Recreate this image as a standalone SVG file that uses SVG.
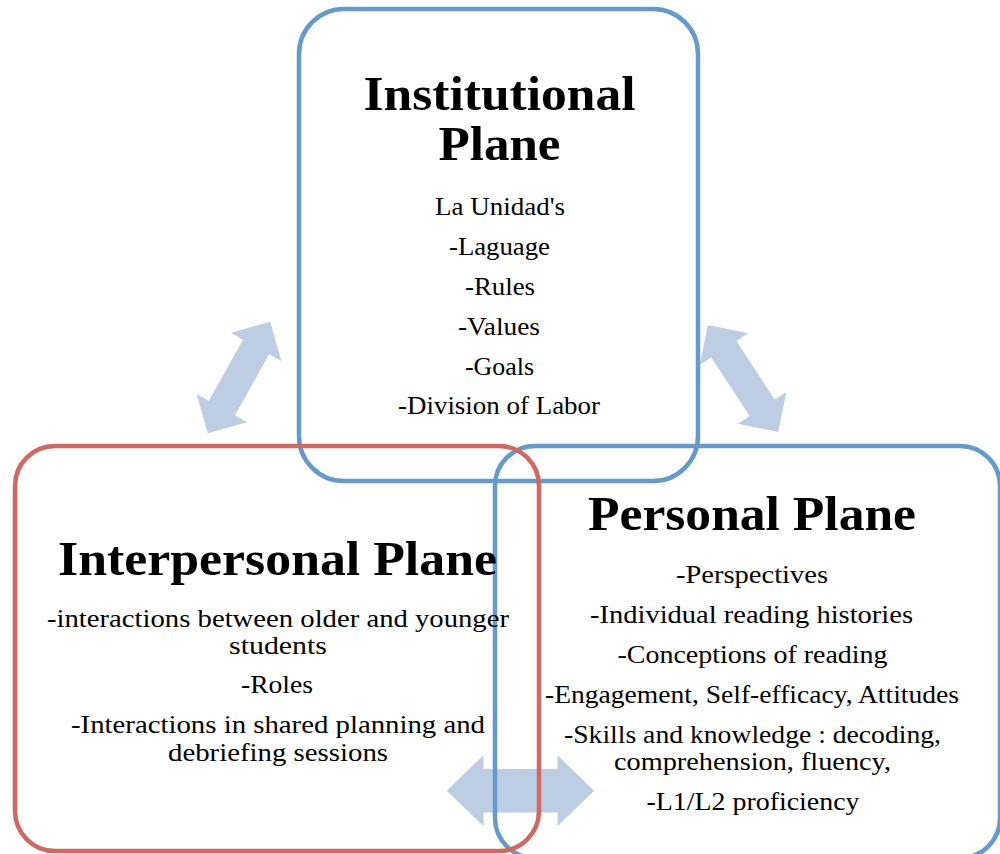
<svg xmlns="http://www.w3.org/2000/svg" width="1000" height="854" viewBox="0 0 1000 854">
<style>
.box{fill:none;stroke-width:4.5}
.blue{stroke:#6699CC}
.red{stroke:#CF6961}
.arrow{fill:#BDCEE4;stroke:none}
text{font-family:"Liberation Serif","Times New Roman",serif;fill:#000;text-anchor:middle}
.title{font-size:48px;font-weight:bold}
.body{font-size:25px}
</style>
<defs>
<polygon id="dbl" points="-64,0 -35,-29 -35,-15 35,-15 35,-29 64,0 35,29 35,15 -35,15 -35,29"/>
</defs>
<rect width="1000" height="854" fill="#fff"/>
<g id="connectors">
<use href="#dbl" class="arrow" transform="translate(239,377.5) rotate(-60.8)"/>
<use href="#dbl" class="arrow" transform="translate(743,378.5) rotate(56.8)"/>
<polygon class="arrow" points="446.7,790.7 483.5,755.2 483.5,769 557.5,769 557.5,755.2 594,790.7 557.5,826.2 557.5,812.4 483.5,812.4 483.5,826.2"/>
</g>
<g id="institutional">
<rect class="box blue" x="299" y="9" width="399" height="472" rx="45" ry="45"/>
<text class="title" x="499.5" y="110" textLength="272" lengthAdjust="spacingAndGlyphs">Institutional</text>
<text class="title" x="499.5" y="160" textLength="122" lengthAdjust="spacingAndGlyphs">Plane</text>
<text class="body" x="500" y="215" textLength="130" lengthAdjust="spacingAndGlyphs">La Unidad's</text>
<text class="body" x="499.5" y="255" textLength="101" lengthAdjust="spacingAndGlyphs">-Laguage</text>
<text class="body" x="500" y="295" textLength="70" lengthAdjust="spacingAndGlyphs">-Rules</text>
<text class="body" x="499" y="335" textLength="82" lengthAdjust="spacingAndGlyphs">-Values</text>
<text class="body" x="499.5" y="375" textLength="69" lengthAdjust="spacingAndGlyphs">-Goals</text>
<text class="body" x="499" y="414" textLength="202" lengthAdjust="spacingAndGlyphs">-Division of Labor</text>
</g>
<g id="personal">
<rect class="box blue" x="495" y="446" width="505" height="412" rx="40" ry="40"/>
<text class="title" x="752" y="530" textLength="328" lengthAdjust="spacingAndGlyphs">Personal Plane</text>
<text class="body" x="752" y="583" textLength="152" lengthAdjust="spacingAndGlyphs">-Perspectives</text>
<text class="body" x="751.5" y="623" textLength="323" lengthAdjust="spacingAndGlyphs">-Individual reading histories</text>
<text class="body" x="752.5" y="663" textLength="270" lengthAdjust="spacingAndGlyphs">-Conceptions of reading</text>
<text class="body" x="752" y="703" textLength="414" lengthAdjust="spacingAndGlyphs">-Engagement, Self-efficacy, Attitudes</text>
<text class="body" x="752.5" y="743" textLength="377" lengthAdjust="spacingAndGlyphs">-Skills and knowledge : decoding,</text>
<text class="body" x="752.5" y="770" textLength="277" lengthAdjust="spacingAndGlyphs">comprehension, fluency,</text>
<text class="body" x="753" y="810" textLength="213" lengthAdjust="spacingAndGlyphs">-L1/L2 proficiency</text>
</g>
<g id="interpersonal">
<rect class="box red" x="15" y="446" width="524" height="405" rx="40" ry="40"/>
<text class="title" x="277.5" y="575" textLength="439" lengthAdjust="spacingAndGlyphs">Interpersonal Plane</text>
<text class="body" x="278" y="627" textLength="462" lengthAdjust="spacingAndGlyphs">-interactions between older and younger</text>
<text class="body" x="278" y="654" textLength="98" lengthAdjust="spacingAndGlyphs">students</text>
<text class="body" x="277" y="693" textLength="72" lengthAdjust="spacingAndGlyphs">-Roles</text>
<text class="body" x="278" y="733" textLength="414" lengthAdjust="spacingAndGlyphs">-Interactions in shared planning and</text>
<text class="body" x="278" y="761" textLength="220" lengthAdjust="spacingAndGlyphs">debriefing sessions</text>
</g>
</svg>
